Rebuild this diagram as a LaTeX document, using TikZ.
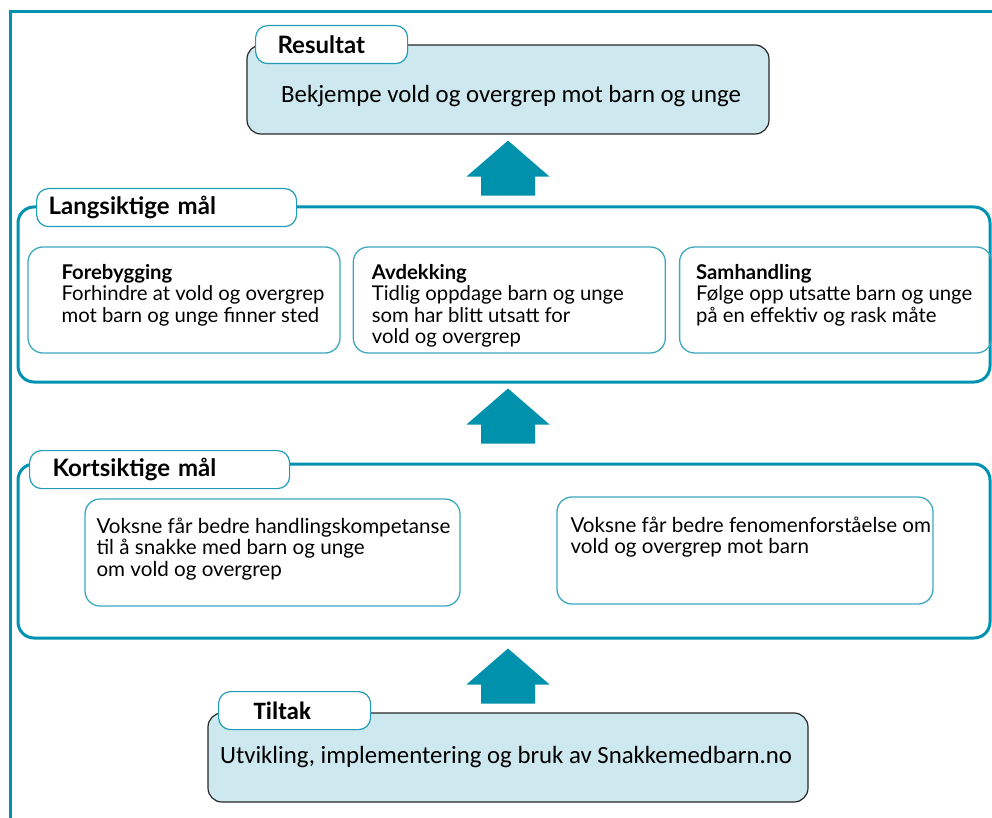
\documentclass[tikz,border=0pt]{standalone}
\usepackage{fontspec}
\setmainfont{Lato}
\newfontfamily\calfont{Carlito}
\usetikzlibrary{calc,positioning}
\definecolor{framecol}{RGB}{0,146,176}
\definecolor{arrowcol}{RGB}{0,145,172}
\definecolor{goalline}{RGB}{60,168,192}
\definecolor{tabline}{RGB}{30,156,184}
\definecolor{boxfill}{RGB}{205,232,239}
\definecolor{boxline}{RGB}{40,40,40}

\begin{document}
\begin{tikzpicture}[x=1pt,y=-1pt,
    frame line/.style={draw=framecol,line width=3pt},
    group box/.style={draw=framecol,line width=3pt,rounded corners=16pt,inner sep=0pt},
    blue box/.style={draw=boxline,fill=boxfill,line width=1.2pt,rounded corners=14pt,inner sep=0pt},
    tab/.style={draw=tabline,fill=white,line width=1.2pt,rounded corners=12pt,anchor=north west,
        minimum height=38pt,inner ysep=0pt,align=left,font=\fontsize{24}{26}\selectfont\bfseries},
    goal box/.style={draw=goalline,line width=1.3pt,rounded corners=15pt,inner sep=0pt,
        minimum width=312pt,minimum height=106pt},
    goal text/.style={anchor=north west,inner sep=0pt,align=left,font=\fontsize{20.3}{21.3}\selectfont},
    body text/.style={font=\calfont\fontsize{24.8}{28}\selectfont},
    level arrow/.pic={\fill[arrowcol] (0,0) -- (41.5,36) -- (27,36) -- (27,55)
        -- (-27,55) -- (-27,36) -- (-41.5,36) -- cycle;}]
    \useasboundingbox (0,0) rectangle (992,818);
    \draw[frame line] (10,818) -- (10,12) -- (992,12);

    % Resultat
    \node[blue box,minimum width=522pt,minimum height=89pt] (res) at (508,89.5) {};
    \node[tab,text width=108pt,inner xsep=22pt] (res tab) at (255,25) {Resultat};
    \node[body text] (res text) at (511,96) {Bekjempe vold og overgrep mot barn og unge};

    % Langsiktige mål
    \node[group box,minimum width=972pt,minimum height=175pt] (lang) at (504,294.5) {};
    \node[tab,text width=236pt,inner xsep=12pt] (lang tab) at (36,188) {Langsiktige mål};
    \node[goal box] (fore) at (184,300) {};
    \node[goal box] (avd) [right=12pt of fore] {};
    \node[goal box] (sam) [right=13pt of avd] {};
    \node[goal text] (fore text) at ([shift={(34,18)}]fore.north west)
        {\textbf{Forebygging}\\Forhindre at vold og overgrep\\mot barn og unge finner sted};
    \node[goal text] (avd text) at ([shift={(19,18)}]avd.north west)
        {\textbf{Avdekking}\\Tidlig oppdage barn og unge\\som har blitt utsatt for\\vold og overgrep};
    \node[goal text] (sam text) at ([shift={(17,18)}]sam.north west)
        {\textbf{Samhandling}\\Følge opp utsatte barn og unge\\på en effektiv og rask måte};

    % Kortsiktige mål
    \node[group box,minimum width=972pt,minimum height=174pt] (kort) at (504,551) {};
    \node[tab,text width=214pt,inner xsep=23pt] (kort tab) at (29,450) {Kortsiktige mål};
    \node[goal box,minimum width=375pt,minimum height=107pt] (handling) at (272.5,552.5) {};
    \node[goal box,minimum width=376pt,minimum height=107pt] (fenomen) at (745,550.5) {};
    \node[goal text,font=\fontsize{20.6}{21.5}\selectfont] (handling text) at ([shift={(12,19)}]handling.north west)
        {Voksne får bedre handlingskompetanse\\til å snakke med barn og unge\\om vold og overgrep};
    \node[goal text,font=\fontsize{20.6}{21.5}\selectfont] (fenomen text) at ([shift={(14,20)}]fenomen.north west)
        {Voksne får bedre fenomenforståelse om\\vold og overgrep mot barn};

    % Tiltak
    \node[blue box,minimum width=600pt,minimum height=89pt] (tiltak) at (508,757.5) {};
    \node[tab,text width=82pt,inner xsep=35pt,font=\calfont\fontsize{25}{27}\selectfont\bfseries] (tiltak tab) at (218,691) {Tiltak};
    \node[body text] (tiltak text) at (506,757) {Utvikling, implementering og bruk av Snakkemedbarn.no};

    % arrows between the levels
    \pic at ($(res.south)+(0,6)$) {level arrow};
    \pic at ($(res.south |- lang.south)+(0,5)$) {level arrow};
    \pic at ($(res.south |- kort.south)+(0,9)$) {level arrow};
\end{tikzpicture}
\end{document}
